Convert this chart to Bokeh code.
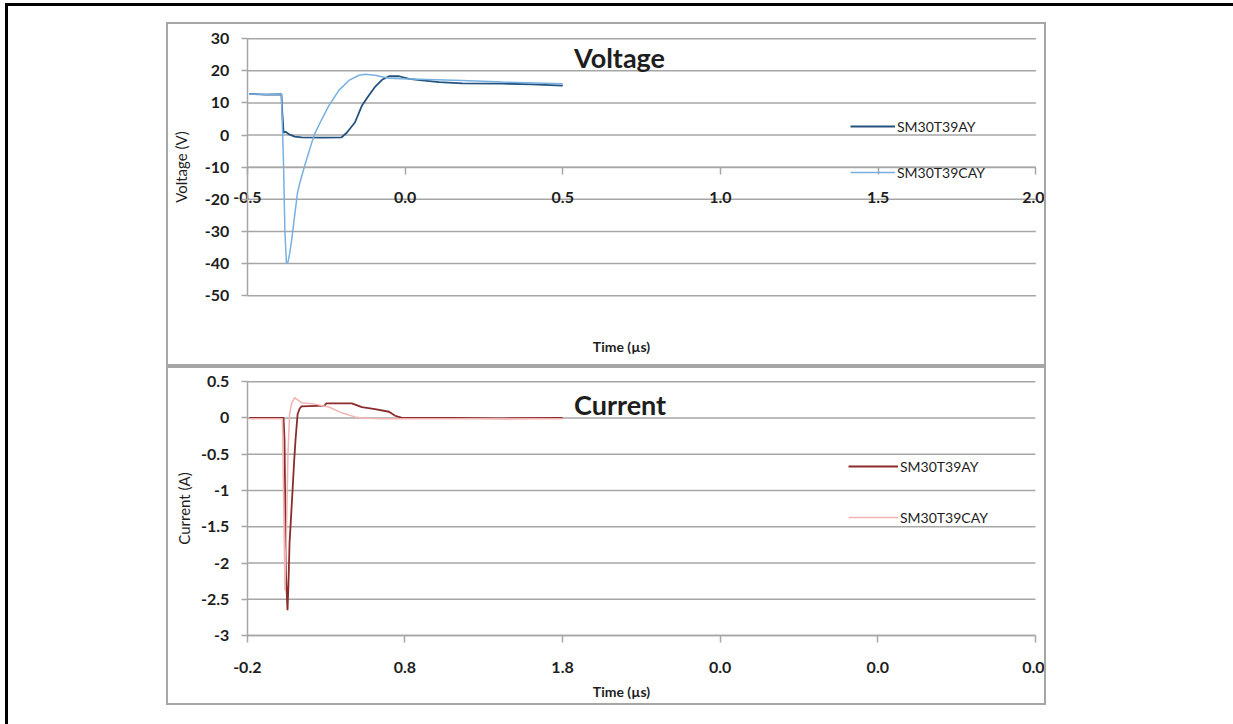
from bokeh.plotting import figure
from bokeh.layouts import column
from bokeh.models import Legend, LegendItem, Label, FixedTicker, Range1d
from bokeh.embed import file_html
from bokeh.resources import INLINE

# ---------------- data ----------------
v_names = ["SM30T39AY", "SM30T39CAY"]
v_ay_t = [-0.494, -0.440, -0.392, -0.389, -0.385, -0.379, -0.369, -0.350, -0.328, -0.264,
          -0.201, -0.185, -0.159, -0.137, -0.115, -0.096, -0.073, -0.051, -0.019, 0.013,
          0.054, 0.108, 0.182, 0.309, 0.404, 0.500]
v_ay_v = [12.8, 12.6, 12.7, 6.6, 0.7, 1.0, 0.3, -0.5, -0.7, -0.8,
          -0.7, 0.7, 3.9, 9.1, 12.3, 14.9, 17.2, 18.3, 18.3, 17.5,
          17.0, 16.5, 16.1, 16.0, 15.8, 15.4]
v_cay_t = [-0.494, -0.440, -0.392, -0.385, -0.381, -0.376, -0.371, -0.366, -0.360, -0.350,
           -0.341, -0.334, -0.318, -0.296, -0.287, -0.264, -0.242, -0.210, -0.178, -0.146,
           -0.127, -0.096, -0.051, -0.010, 0.182, 0.309, 0.500]
v_cay_v = [12.8, 12.6, 12.8, -10.0, -30.0, -40.0, -39.5, -37.0, -33.0, -25.0,
           -18.0, -15.0, -9.5, -2.4, 0.3, 4.9, 9.1, 13.9, 17.0, 18.6,
           18.9, 18.6, 17.7, 17.5, 17.0, 16.5, 16.0]

c_names = ["SM30T39AY", "SM30T39CAY"]
c_ay_t = [-0.187, 0.030, 0.036, 0.046, 0.055, 0.061, 0.068, 0.074, 0.087, 0.097,
          0.106, 0.119, 0.132, 0.144, 0.291, 0.300, 0.463, 0.527, 0.610, 0.699,
          0.738, 0.782, 1.101, 1.420, 1.800]
c_ay_i = [0.0, 0.0, -0.3, -2.2, -2.65, -2.3, -1.72, -1.5, -1.0, -0.6,
          -0.3, 0.05, 0.13, 0.16, 0.17, 0.2, 0.2, 0.15, 0.12, 0.085,
          0.03, 0.0, 0.0, -0.005, 0.0]
c_cay_t = [-0.187, 0.023, 0.033, 0.039, 0.049, 0.058, 0.068, 0.081, 0.100, 0.144,
           0.227, 0.317, 0.399, 0.482, 0.527, 0.655, 1.200, 1.800]
c_cay_i = [-0.01, -0.01, -1.5, -2.38, -1.5, -0.5, 0.05, 0.2, 0.28, 0.21,
           0.19, 0.15, 0.07, 0.014, 0.0, -0.01, -0.01, -0.01]

v_xticks = [-0.5, 0.0, 0.5, 1.0, 1.5, 2.0]
v_xlabels = ["-0.5", "0.0", "0.5", "1.0", "1.5", "2.0"]
v_xaxis_at = -10
v_yticks = [-50, -40, -30, -20, -10, 0, 10, 20, 30]
v_ylabels = ["-50", "-40", "-30", "-20", "-10", "0", "10", "20", "30"]

c_xticks = [-0.2, 0.8, 1.8, 2.8, 3.8, 4.8]
c_xlabels = ["-0.2", "0.8", "1.8", "0.0", "0.0", "0.0"]
c_xaxis_at = -3.0
c_yticks = [-3.0, -2.5, -2.0, -1.5, -1.0, -0.5, 0.0, 0.5]
c_ylabels = ["-3", "-2.5", "-2", "-1.5", "-1", "-0.5", "0", "0.5"]

# ---------------- styles ----------------
FONT = "Lato"
TXT = "#1e1e1e"
GRID = "#a6a6a6"
V_COLORS = ["#24527f", "#78b0e2"]
C_COLORS = ["#8b2b2b", "#f2b3b3"]
TICK_FS = "16px"


def make_panel(height, xr, yr, xticks, xlabels, yticks, ylabels, x_at, ylab,
               top_margin, ylab_standoff):
    p = figure(width=880, height=height, output_backend="svg", toolbar_location=None,
               x_range=Range1d(*xr), y_range=Range1d(*yr), min_border=0,
               styles={"border": "2px solid #a6a6a6"}, margin=(top_margin, 0, 0, 158))
    p.outline_line_color = None
    p.grid.visible = False
    # horizontal grid lines, spanning only the axis extent
    n = len(yticks)
    p.segment(x0=[xticks[0]] * n, x1=[xticks[-1]] * n, y0=yticks, y1=yticks,
              line_color=GRID, line_width=1.5)
    for ax in (p.xaxis, p.yaxis):
        ax.axis_line_color = GRID
        ax.axis_line_width = 1.5
        ax.major_tick_line_color = GRID
        ax.major_tick_line_width = 1.5
        ax.minor_tick_line_color = None
        ax.major_tick_in = 0
        ax.major_label_text_font = FONT
        ax.major_label_text_font_style = "bold"
        ax.major_label_text_font_size = TICK_FS
        ax.major_label_text_color = TXT
    p.xaxis.fixed_location = x_at
    p.xaxis.bounds = (xticks[0], xticks[-1])
    p.xaxis.ticker = FixedTicker(ticks=xticks)
    p.xaxis.major_label_overrides = {t: l for t, l in zip(xticks, xlabels)}
    p.xaxis.major_tick_out = 7
    p.yaxis.fixed_location = xticks[0]
    p.yaxis.bounds = (yticks[0], yticks[-1])
    p.yaxis.ticker = FixedTicker(ticks=yticks)
    p.yaxis.major_label_overrides = {t: l for t, l in zip(yticks, ylabels)}
    p.yaxis.major_tick_out = 6
    p.yaxis.major_label_standoff = 12
    p.yaxis.axis_label = ylab
    p.yaxis.axis_label_text_font = FONT
    p.yaxis.axis_label_text_font_style = "normal"
    p.yaxis.axis_label_text_font_size = "15px"
    p.yaxis.axis_label_text_color = TXT
    p.yaxis.axis_label_standoff = ylab_standoff
    return p


def add_legend(p, renderers, names, loc, glyph_w, spacing):
    items = [LegendItem(label=n, renderers=[r]) for n, r in zip(names, renderers)]
    lg = Legend(items=items, location=loc, orientation="vertical",
                background_fill_alpha=0, border_line_color=None,
                padding=0, margin=0, spacing=spacing,
                glyph_width=glyph_w, glyph_height=20, label_height=20,
                label_standoff=2,
                label_text_font=FONT, label_text_font_size="14px",
                label_text_color=TXT)
    p.add_layout(lg, "center")


def add_text(p, x, y, text, size, bold=True):
    p.add_layout(Label(x=x, y=y, text=text, text_align="center",
                       text_baseline="middle", text_font=FONT, text_font_size=size,
                       text_font_style="bold" if bold else "normal", text_color=TXT))


# ---------------- voltage panel ----------------
p1 = make_panel(344, (-0.75, 2.04), (-72.68, 34.41), v_xticks, v_xlabels,
                v_yticks, v_ylabels, v_xaxis_at, "Voltage (V)", 16, 12)
p1.xaxis.major_label_standoff = 18
r1 = p1.line(v_ay_t, v_ay_v, line_color=V_COLORS[0], line_width=1.8)
r2 = p1.line(v_cay_t, v_cay_v, line_color=V_COLORS[1], line_width=1.5)
add_legend(p1, [r1, r2], v_names, (682, 186), 45, 26)
add_text(p1, 0.680, 24.0, "Voltage", "27px")
add_text(p1, 0.686, -65.7, "Time (µs)", "14px")

# ---------------- current panel ----------------
p2 = make_panel(339, (-0.70, 4.883), (-3.991, 0.681), c_xticks, c_xlabels,
                c_yticks, c_ylabels, c_xaxis_at, "Current (A)", 0, 5)
p2.xaxis.major_label_standoff = 19
r3 = p2.line(c_ay_t, c_ay_i, line_color=C_COLORS[0], line_width=1.8)
r4 = p2.line(c_cay_t, c_cay_i, line_color=C_COLORS[1], line_width=1.5)
add_legend(p2, [r3, r4], c_names, (680, 180), 50, 31)
add_text(p2, 2.165, 0.19, "Current", "27px")
add_text(p2, 2.174, -3.768, "Time (µs)", "14px")

root = column(p1, p2, width=1228, height=721, margin=(3, 0, 0, 5),
              styles={"border-top": "3px solid black", "border-left": "3px solid black"})

open("out.html", "w").write(file_html(root, INLINE))
